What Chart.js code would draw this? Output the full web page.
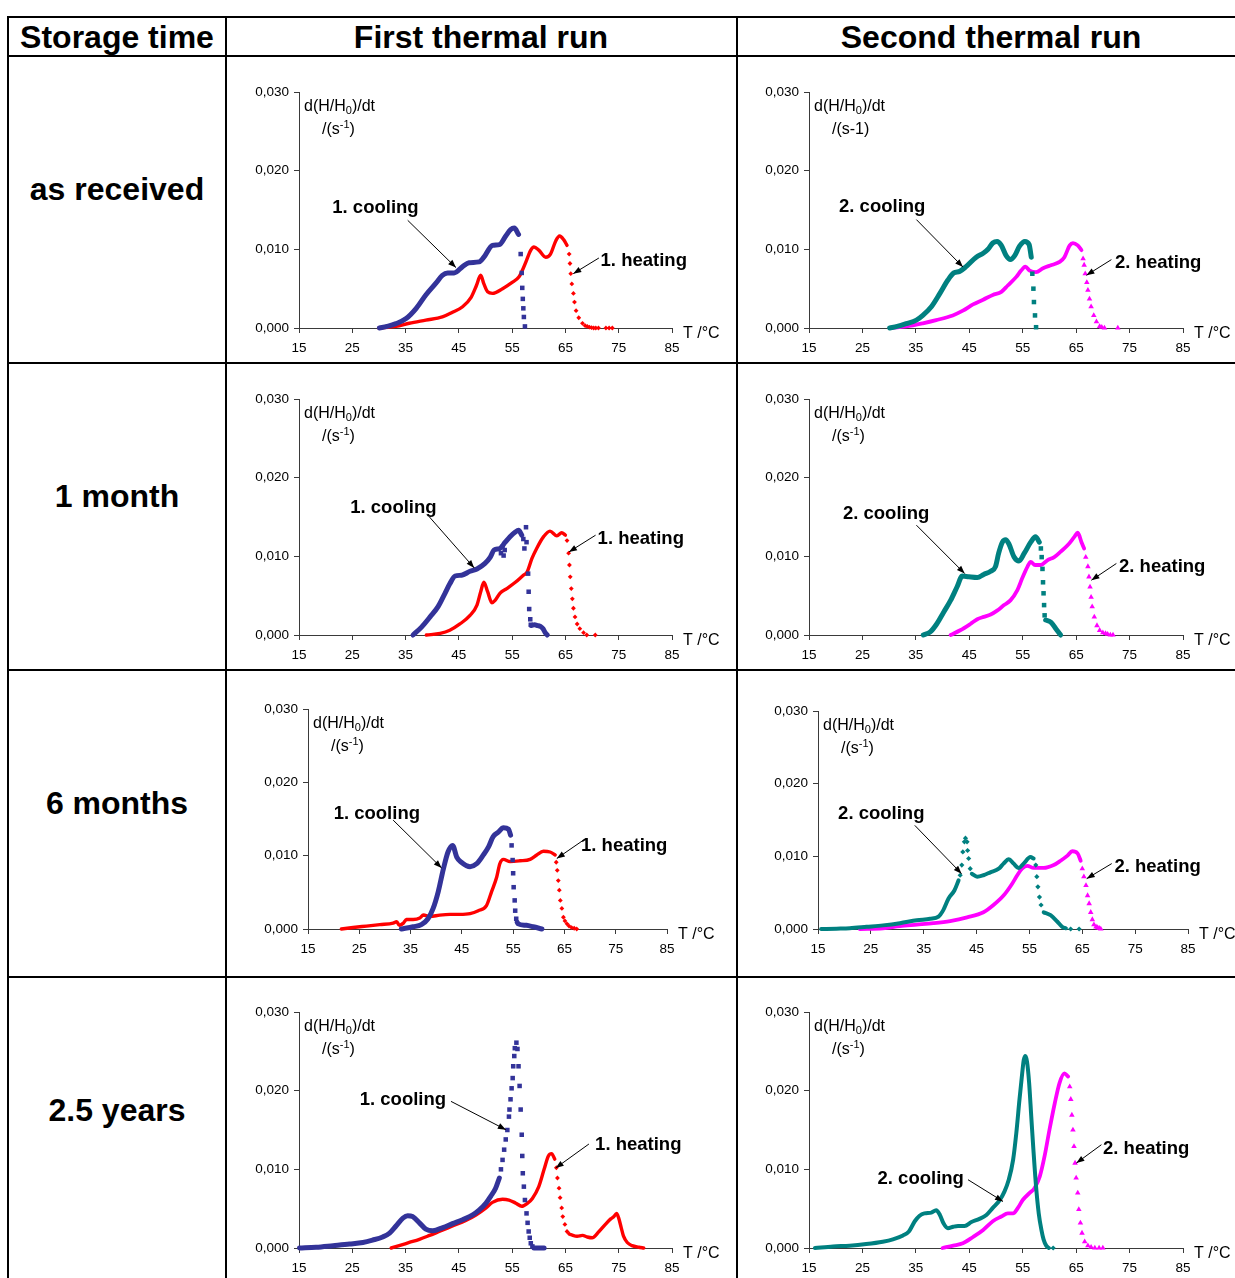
<!DOCTYPE html>
<html>
<head>
<meta charset="utf-8">
<title>Storage time – thermal runs</title>
<script src="https://cdn.jsdelivr.net/npm/chart.js@4.4.1/dist/chart.umd.min.js"></script>
<style>
  html, body { margin: 0; padding: 0; background: #fff; width: 1235px; height: 1278px; overflow: hidden; }
  #page { position: relative; width: 1235px; height: 1278px; overflow: hidden;
          font-family: "Liberation Sans", Arial, Helvetica, sans-serif; }
  .hl { position: absolute; height: 2px; background: #000; }
  .vl { position: absolute; width: 2px; background: #000; }
  .cap { position: absolute; font-weight: bold; font-size: 32px; line-height: 1;
         white-space: nowrap; transform: translate(-50%, -50%); color: #000; }
  canvas { position: absolute; }
</style>
</head>
<body>
<div id="page"></div>
<script>
// ---------- measured curves: [temperature °C, d(H/H0)/dt in s^-1] ----------
// "Trace" = densely sampled part (drawn as a solid band), null breaks the band.
// "Dots"  = sparse samples during fast transitions (drawn as single markers).

// as received – first run
const recv1CoolTrace = [[30.1,0],[31.5,0.0002],[33.2,0.00055],[35.1,0.0012],[37.0,0.0025],[38.8,0.0042],[40.7,0.0057],[41.9,0.0067],[42.9,0.0070],[44.1,0.0070],[45.7,0.0078],[46.9,0.0083],[48.8,0.0084],[49.7,0.0090],[51.3,0.0105],[52.6,0.0106],[53.8,0.0117],[54.7,0.0125],[55.4,0.0127],[56.2,0.0119]];
const recv1CoolDots = [[56.6,0.0094],[56.8,0.0070],[56.9,0.0051],[57.0,0.0037],[57.1,0.0025],[57.2,0.0014],[57.4,0.0002]];
const recv1HeatTrace = [[30.0,0],[33.2,0.0002],[35.7,0.0006],[38.8,0.0010],[41.9,0.0014],[43.8,0.0020],[45.7,0.0027],[47.3,0.0039],[48.3,0.0054],[49.1,0.0067],[49.7,0.0056],[50.4,0.0046],[51.3,0.0044],[53.2,0.0050],[55.0,0.0058],[56.3,0.0065],[56.9,0.0073],[57.7,0.0086],[58.5,0.0099],[59.1,0.0103],[60.0,0.0099],[61.3,0.0090],[62.2,0.0094],[63.2,0.0111],[63.9,0.0117],[64.7,0.0112],[65.3,0.0105]];
const recv1HeatDots = [[65.7,0.0094],[65.85,0.0082],[66.0,0.0069],[66.2,0.0056],[66.5,0.0044],[66.7,0.0033],[67.0,0.0022],[67.5,0.0013],[68.2,0.0006],[68.7,0.0003],[69.1,0.0002],[69.5,0.0001],[69.9,0.00005],[70.3,0],[70.7,0],[71.2,0],[72.6,0],[73.2,0],[73.8,0]];

// as received – second run
const recv2CoolTrace = [[30.1,0],[31.5,0.0002],[33.2,0.00055],[35.1,0.0010],[36.3,0.0016],[37.9,0.0027],[39.5,0.0044],[41.0,0.0061],[42.1,0.0070],[43.2,0.0072],[44.4,0.0078],[46.3,0.0090],[47.6,0.0095],[48.5,0.0100],[49.4,0.0108],[50.2,0.0110],[51.0,0.0105],[51.9,0.0092],[52.7,0.0087],[53.5,0.0092],[54.4,0.0104],[55.4,0.0110],[56.2,0.0106],[56.6,0.0090]];
const recv2CoolDots = [[56.8,0.0069],[57.0,0.0050],[57.1,0.0033],[57.3,0.0016],[57.5,0.0001]];
const recv2HeatTrace = [[30.1,0],[33.2,0.0002],[36.3,0.0006],[38.8,0.0010],[41.9,0.0016],[43.8,0.0022],[45.7,0.0030],[47.6,0.0036],[49.4,0.0042],[51.0,0.0046],[52.2,0.0054],[53.8,0.0065],[54.7,0.0073],[55.5,0.0078],[56.3,0.0073],[57.5,0.0071],[58.8,0.0076],[60.4,0.0080],[61.9,0.0084],[62.8,0.0090],[63.8,0.0105],[64.4,0.0108],[65.3,0.0105],[66.0,0.0099]];
const recv2HeatDots = [[66.3,0.0088],[66.5,0.0080],[66.7,0.0069],[67.0,0.0058],[67.2,0.0048],[67.5,0.0037],[67.8,0.0027],[68.3,0.0016],[68.8,0.0008],[69.4,0.0002],[69.8,0.0001],[70.3,0],[72.8,0]];

// 1 month – first run
const m1Cool1Trace = [[36.4,0],[38.0,0.0010],[39.6,0.0023],[41.1,0.0036],[42.4,0.0053],[43.3,0.0065],[44.3,0.0075],[45.5,0.0076],[47.1,0.0081],[48.4,0.0084],[49.9,0.0091],[50.9,0.0099],[51.6,0.0108],[52.7,0.0110],[53.7,0.0118],[54.6,0.0125],[55.6,0.0131],[56.2,0.0133],[56.8,0.0127],[57.0,null],[58.6,0.0012],[59.2,0.0013],[59.8,0.0012],[60.3,0.0011],[60.8,0.0008],[61.2,0.0003],[61.6,0]];
const m1Cool1Dots = [[52.9,0.0104],[53.2,0.0112],[53.4,0.0101],[53.6,0.0108],[57.1,0.0122],[57.3,0.0110],[57.6,0.0137],[57.7,0.0118],[58.0,0.0078],[58.1,0.0055],[58.2,0.0033],[58.4,0.0020],[58.5,0.0013]];
const m1Heat1Trace = [[38.9,0],[41.5,0.0002],[43.3,0.0006],[45.2,0.0014],[47.1,0.0025],[48.4,0.0038],[49.1,0.0055],[49.7,0.0067],[50.4,0.0055],[51.2,0.0041],[51.8,0.0044],[52.7,0.0053],[54.0,0.0059],[55.6,0.0067],[57.1,0.0076],[57.8,0.0080],[58.7,0.0097],[59.6,0.0110],[60.9,0.0125],[62.1,0.0132],[63.4,0.0126],[64.3,0.0130],[65.0,0.0127]];
const m1Heat1Dots = [[65.3,0.0120],[65.6,0.0104],[65.75,0.0089],[65.9,0.0074],[66.1,0.0059],[66.3,0.0046],[66.5,0.0034],[66.8,0.0023],[67.2,0.0014],[67.7,0.0008],[68.4,0.0003],[69.0,0],[70.6,0]];

// 1 month – second run
const m1Cool2Trace = [[36.4,0],[37.7,0.0004],[38.9,0.0014],[40.2,0.0029],[41.5,0.0044],[42.7,0.0061],[43.7,0.0075],[44.9,0.0074],[46.5,0.0073],[47.7,0.0077],[49.0,0.0081],[49.9,0.0087],[50.5,0.0104],[51.2,0.0118],[51.8,0.0121],[52.4,0.0116],[53.4,0.0099],[54.3,0.0094],[55.3,0.0104],[56.5,0.0118],[57.4,0.0125],[58.1,0.0118],[58.3,null],[59.3,0.0019],[60.3,0.0016],[61.2,0.0008],[62.1,0]];
const m1Cool2Dots = [[58.4,0.0110],[58.55,0.0099],[58.7,0.0084],[58.8,0.0067],[58.9,0.0053],[59.0,0.0038],[59.1,0.0025]];
const m1Heat2Trace = [[41.5,0],[43.3,0.0006],[45.2,0.0014],[46.5,0.0020],[47.7,0.0023],[49.0,0.0026],[50.2,0.0031],[51.5,0.0038],[52.7,0.0044],[54.0,0.0057],[54.9,0.0072],[55.9,0.0087],[56.5,0.0093],[57.3,0.0089],[58.4,0.0089],[59.6,0.0095],[60.9,0.0099],[62.1,0.0106],[63.4,0.0114],[64.7,0.0125],[65.3,0.0130],[66.0,0.0118],[66.5,0.0110]];
const m1Heat2Dots = [[66.8,0.0099],[67.2,0.0087],[67.4,0.0074],[67.6,0.0061],[67.8,0.0048],[68.0,0.0036],[68.4,0.0023],[68.9,0.0012],[69.4,0.0006],[70.0,0.0003],[70.5,0.0002],[70.9,0.0001],[71.4,0],[71.9,0]];

// 6 months – first run
const m6Cool1Trace = [[33.2,0],[35.5,0.0003],[37.1,0.0006],[38.4,0.0014],[39.4,0.0028],[40.4,0.0051],[41.4,0.0082],[42.3,0.0105],[43.2,0.0114],[44.0,0.0098],[44.9,0.0091],[46.6,0.0085],[47.9,0.0089],[49.2,0.0101],[50.2,0.0112],[51.1,0.0126],[52.1,0.0132],[53.1,0.0138],[54.1,0.0136],[54.5,0.0128],[54.6,null],[55.8,0.0009],[56.0,0.0007],[57.6,0.0005],[58.9,0.0003],[60.6,0]];
const m6Cool1Dots = [[54.7,0.0114],[54.9,0.0094],[55.0,0.0076],[55.1,0.0057],[55.3,0.0039],[55.4,0.0025],[55.6,0.0014]];
const m6Heat1Trace = [[21.5,0],[23.8,0.0002],[26.4,0.0004],[29.0,0.0006],[31.6,0.0008],[32.3,0.0010],[32.8,0.0005],[33.6,0.0008],[34.2,0.0013],[35.5,0.0013],[36.8,0.0015],[37.5,0.0019],[38.8,0.0017],[40.7,0.0019],[42.7,0.0020],[44.6,0.0020],[46.6,0.0021],[48.2,0.0025],[49.8,0.0032],[50.8,0.0051],[51.8,0.0071],[52.4,0.0089],[53.1,0.0095],[54.4,0.0092],[56.3,0.0093],[58.3,0.0095],[59.6,0.0101],[60.9,0.0106],[62.2,0.0105],[63.2,0.0101]];
const m6Heat1Dots = [[63.4,0.0091],[63.6,0.0080],[63.8,0.0066],[64.0,0.0053],[64.2,0.0039],[64.5,0.0028],[64.8,0.0016],[65.1,0.0011],[65.5,0.0007],[65.9,0.0004],[66.4,0.0002],[66.9,0.0001],[67.4,0]];

// 6 months – second run
const m6Cool2Trace = [[15.6,0],[18.5,0.00005],[21.0,0.0001],[24.2,0.0003],[27.3,0.0005],[30.5,0.0008],[33.7,0.0012],[36.2,0.0014],[37.8,0.0017],[38.7,0.0026],[39.7,0.0042],[40.8,0.0053],[41.6,0.0067],[41.8,null],[44.1,0.0076],[45.1,0.0072],[46.3,0.0074],[47.6,0.0078],[49.2,0.0083],[50.1,0.0090],[51.1,0.0096],[52.0,0.0090],[53.0,0.0084],[53.9,0.0090],[55.2,0.0099],[55.8,0.0097],[56.0,null],[57.7,0.0023],[59.0,0.0019],[60.3,0.0010],[61.2,0.0003],[61.9,0.0001]];
const m6Cool2Dots = [[41.9,0.0074],[42.2,0.0088],[42.4,0.0106],[42.7,0.0120],[42.9,0.0125],[43.2,0.0120],[43.3,0.0108],[43.5,0.0097],[43.8,0.0083],[56.2,0.0088],[56.4,0.0072],[56.6,0.0058],[56.9,0.0044],[57.2,0.0033],[62.8,0],[64.4,0]];
const m6Heat2Trace = [[22.9,0],[27.3,0.0001],[30.5,0.0004],[33.7,0.0006],[36.8,0.0008],[40.0,0.0011],[43.2,0.0016],[46.3,0.0023],[48.2,0.0033],[50.1,0.0046],[51.7,0.0062],[52.7,0.0074],[53.6,0.0083],[54.6,0.0087],[55.8,0.0084],[57.7,0.0084],[59.6,0.0088],[60.9,0.0094],[62.2,0.0101],[63.1,0.0107],[64.1,0.0104],[64.7,0.0094]];
const m6Heat2Dots = [[65.0,0.0083],[65.3,0.0072],[65.7,0.0060],[66.0,0.0046],[66.3,0.0035],[66.6,0.0023],[66.9,0.0013],[67.2,0.0006],[67.6,0.0003],[67.9,0.0002],[68.2,0.0001],[68.5,0]];

// 2.5 years – first run
const y25Cool1Trace = [[15.1,0],[18.2,0.0001],[21.4,0.0003],[24.5,0.0005],[27.0,0.0007],[28.8,0.0010],[30.7,0.0014],[32.0,0.0019],[33.2,0.0028],[34.5,0.0038],[35.4,0.0041],[36.3,0.0040],[37.6,0.0032],[38.8,0.0024],[40.1,0.0022],[42.0,0.0026],[43.8,0.0031],[45.7,0.0036],[47.6,0.0042],[48.8,0.0048],[50.1,0.0057],[51.0,0.0066],[51.9,0.0076],[52.6,0.0089],[52.7,null],[59.1,0],[61.0,0]];
const y25Cool1Dots = [[52.9,0.0100],[53.2,0.0112],[53.5,0.0125],[53.8,0.0138],[54.1,0.0150],[54.4,0.0167],[54.5,0.0176],[54.7,0.0189],[54.9,0.0203],[55.1,0.0216],[55.2,0.0231],[55.4,0.0244],[55.5,0.0254],[55.8,0.0261],[56.0,0.0253],[56.2,0.0231],[56.4,0.0206],[56.6,0.0176],[56.8,0.0144],[56.9,0.0117],[57.0,0.0095],[57.2,0.0078],[57.4,0.0061],[57.7,0.0044],[57.9,0.0032],[58.1,0.0021],[58.3,0.0013],[58.5,0.0006],[58.8,0.0002]];
const y25Heat1Trace = [[32.3,0],[33.8,0.0003],[35.7,0.0007],[37.6,0.0011],[39.5,0.0016],[41.3,0.0021],[43.8,0.0028],[46.3,0.0035],[48.2,0.0042],[50.1,0.0051],[51.3,0.0058],[53.2,0.0062],[54.4,0.0061],[55.7,0.0057],[56.8,0.0053],[57.9,0.0057],[58.8,0.0063],[60.0,0.0078],[61.0,0.0100],[61.8,0.0117],[62.4,0.0120],[63.0,0.0113],[63.1,null],[66.0,0.0017],[67.2,0.0015],[68.2,0.0016],[69.1,0.0014],[70.0,0.0013],[71.3,0.0021],[72.5,0.0030],[73.5,0.0037],[74.1,0.0040],[74.6,0.0044],[75.0,0.0038],[75.5,0.0025],[75.9,0.0015],[76.6,0.0007],[77.5,0.0003],[78.8,0.0001],[79.7,0]];
const y25Heat1Dots = [[63.3,0.0102],[63.5,0.0089],[63.8,0.0076],[64.0,0.0064],[64.3,0.0051],[64.5,0.0040],[64.9,0.0030],[65.3,0.0021],[65.7,0.0018]];

// 2.5 years – second run
const y25Cool2Trace = [[16.1,0],[19.5,0.0002],[22.6,0.0003],[25.7,0.0005],[28.8,0.0008],[30.7,0.0011],[32.6,0.0016],[33.7,0.0021],[34.8,0.0034],[35.7,0.0041],[36.6,0.0044],[37.9,0.0045],[38.8,0.0048],[39.5,0.0042],[40.2,0.0031],[41.0,0.0025],[42.0,0.0027],[42.9,0.0028],[44.1,0.0028],[45.4,0.0033],[46.9,0.0037],[48.2,0.0042],[49.4,0.0051],[50.7,0.0061],[51.6,0.0072],[52.4,0.0087],[53.2,0.0112],[53.8,0.0146],[54.4,0.0189],[54.9,0.0222],[55.2,0.0239],[55.5,0.0244],[55.8,0.0237],[56.2,0.0210],[56.6,0.0167],[57.0,0.0125],[57.5,0.0078],[58.0,0.0044],[58.5,0.0023],[58.9,0.0011],[59.4,0.0003],[59.9,0]];
const y25Cool2Dots = [[60.7,0]];
const y25Heat2Trace = [[40.0,0],[42.0,0.0003],[43.8,0.0006],[45.7,0.0014],[47.6,0.0023],[49.4,0.0034],[51.0,0.0040],[52.2,0.0044],[53.2,0.0044],[54.1,0.0051],[55.0,0.0061],[56.3,0.0070],[57.2,0.0076],[58.2,0.0091],[59.1,0.0117],[60.0,0.0150],[61.0,0.0184],[61.9,0.0210],[62.8,0.0222],[63.5,0.0218]];
const y25Heat2Dots = [[63.8,0.0205],[64.0,0.0189],[64.2,0.0169],[64.4,0.0150],[64.6,0.0129],[64.8,0.0108],[65.0,0.0089],[65.3,0.0070],[65.5,0.0049],[65.8,0.0032],[66.1,0.0019],[66.6,0.0008],[67.2,0.0003],[67.8,0.0001],[68.5,0],[69.3,0],[70.0,0]];

// ---------- axes and table text ----------
const tempTicks = [15, 25, 35, 45, 55, 65, 75, 85];
const rateTicks = [0, 0.01, 0.02, 0.03];
const headerLabels = ['Storage time', 'First thermal run', 'Second thermal run'];
const storageLabels = ['as received', '1 month', '6 months', '2.5 years'];

// ---------- drawing ----------
const FAMILY = "'Liberation Sans', Arial, Helvetica, sans-serif";
Chart.defaults.font.family = FAMILY;
Chart.defaults.color = '#000';
const page = document.getElementById('page');

// table rules
function rule(cls, x, y, len) {
  const d = document.createElement('div');
  d.className = cls;
  d.style.left = x + 'px'; d.style.top = y + 'px';
  if (cls === 'hl') d.style.width = len + 'px'; else d.style.height = len + 'px';
  page.appendChild(d);
}
[16, 55, 362, 669, 976].forEach(y => rule('hl', 7, y, 1260));
[7, 225, 736].forEach(x => rule('vl', x, 16, 1300));

function caption(text, cx, cy) {
  const d = document.createElement('div');
  d.className = 'cap';
  d.textContent = text;
  d.style.left = cx + 'px'; d.style.top = cy + 'px';
  page.appendChild(d);
}
const headerCenters = [117, 481, 991];
headerLabels.forEach((t, i) => caption(t, headerCenters[i], 37));
storageLabels.forEach((t, i) => caption(t, 117, 189 + i * 307));

const STYLE = {
  cool1:  { color: '#333399', width: 5,   point: 'rect',     r: 3.2 },
  heat1:  { color: '#ff0000', width: 3.4, point: 'rectRot',  r: 2.4 },
  cool2:  { color: '#008080', width: 5,   point: 'rect',     r: 3.2 },
  cool2s: { color: '#008080', width: 4,   point: 'rectRot',  r: 2.6 },
  heat2:  { color: '#ff00ff', width: 3.8, point: 'triangle', r: 3.2 }
};

const toXY = arr => arr.map(([x, y]) => ({ x, y }));

const panels = [
  { area: { l: 299, t: 92, r: 672, b: 328 }, unit: 'sup',
    series: [['cool1', recv1CoolTrace, recv1CoolDots], ['heat1', recv1HeatTrace, recv1HeatDots]],
    notes: [{ text: '1. cooling', at: [29.35, 0.01534], from: [35.40, 0.01369], to: [44.46, 0.00768] },
            { text: '1. heating', at: [79.70, 0.00861], from: [71.28, 0.0089],  to: [66.47, 0.00691] }] },
  { area: { l: 809, t: 92, r: 1183, b: 328 }, unit: 'plain',
    series: [['cool2', recv2CoolTrace, recv2CoolDots], ['heat2', recv2HeatTrace, recv2HeatDots]],
    notes: [{ text: '2. cooling', at: [28.70, 0.01547], from: [35.10, 0.01378], to: [43.82, 0.00775] },
            { text: '2. heating', at: [80.36, 0.00835], from: [71.60, 0.00869], to: [66.92, 0.0067] }] },
  { area: { l: 299, t: 399, r: 672, b: 635 }, unit: 'sup',
    series: [['cool1', m1Cool1Trace, m1Cool1Dots], ['heat1', m1Heat1Trace, m1Heat1Dots]],
    notes: [{ text: '1. cooling', at: [32.72, 0.01625], from: [39.46, 0.01502], to: [47.88, 0.00853] },
            { text: '1. heating', at: [79.14, 0.01231], from: [70.66, 0.01269], to: [65.66, 0.01056] }] },
  { area: { l: 809, t: 399, r: 1183, b: 635 }, unit: 'sup',
    series: [['cool2', m1Cool2Trace, m1Cool2Dots], ['heat2', m1Heat2Trace, m1Heat2Dots]],
    notes: [{ text: '2. cooling', at: [29.43, 0.01549], from: [35.10, 0.01396], to: [44.14, 0.00781] },
            { text: '2. heating', at: [81.11, 0.00875], from: [72.53, 0.00909], to: [67.85, 0.00696] }] },
  { area: { l: 308, t: 709, r: 667, b: 929 }, unit: 'sup',
    series: [['cool1', m6Cool1Trace, m6Cool1Dots], ['heat1', m6Heat1Trace, m6Heat1Dots]],
    notes: [{ text: '1. cooling', at: [28.42, 0.01581], from: [31.60, 0.01485], to: [41.05, 0.00833] },
            { text: '1. heating', at: [76.66, 0.01144], from: [68.71, 0.01212], to: [63.52, 0.00962] }] },
  { area: { l: 818, t: 711, r: 1188, b: 929 }, unit: 'sup',
    series: [['cool2s', m6Cool2Trace, m6Cool2Dots], ['heat2', m6Heat2Trace, m6Heat2Dots]],
    notes: [{ text: '2. cooling', at: [26.97, 0.01591], from: [33.31, 0.01426], to: [42.16, 0.00762] },
            { text: '2. heating', at: [79.24, 0.00862], from: [70.57, 0.009],   to: [65.83, 0.00693] }] },
  { area: { l: 299, t: 1012, r: 672, b: 1248 }, unit: 'sup',
    series: [['cool1', y25Cool1Trace, y25Cool1Dots], ['heat1', y25Heat1Trace, y25Heat1Dots]],
    notes: [{ text: '1. cooling', at: [34.50, 0.01898], from: [43.52, 0.01864], to: [53.82, 0.01504] },
            { text: '1. heating', at: [78.67, 0.01326], from: [69.41, 0.01322], to: [63.17, 0.01017] }] },
  { area: { l: 809, t: 1012, r: 1183, b: 1248 }, unit: 'sup',
    series: [['cool2s', y25Cool2Trace, y25Cool2Dots], ['heat2', y25Heat2Trace, y25Heat2Dots]],
    notes: [{ text: '2. cooling', at: [35.91, 0.00894], from: [44.76, 0.00868], to: [51.31, 0.00592] },
            { text: '2. heating', at: [78.11, 0.01274], from: [69.73, 0.01313], to: [65.05, 0.0108] }] }
];

const AXIS_PX = 16, SMALL_PX = 11, TICK_PX = 13.5, NOTE_PX = 18.5;

function drawRich(ctx, x, y, parts) {
  let cx = x;
  for (const [t, kind] of parts) {
    if (kind === 'sub') { ctx.font = `${SMALL_PX}px ${FAMILY}`; ctx.fillText(t, cx, y + 4); }
    else if (kind === 'sup') { ctx.font = `${SMALL_PX}px ${FAMILY}`; ctx.fillText(t, cx, y - 5); }
    else { ctx.font = `${AXIS_PX}px ${FAMILY}`; ctx.fillText(t, cx, y); }
    cx += ctx.measureText(t).width;
  }
}

function drawArrow(ctx, x0, y0, x1, y1) {
  ctx.strokeStyle = '#000'; ctx.fillStyle = '#000'; ctx.lineWidth = 1;
  ctx.beginPath(); ctx.moveTo(x0, y0); ctx.lineTo(x1, y1); ctx.stroke();
  const a = Math.atan2(y1 - y0, x1 - x0), L = 8, W = 3;
  ctx.beginPath();
  ctx.moveTo(x1, y1);
  ctx.lineTo(x1 - L * Math.cos(a) + W * Math.sin(a), y1 - L * Math.sin(a) - W * Math.cos(a));
  ctx.lineTo(x1 - L * Math.cos(a) - W * Math.sin(a), y1 - L * Math.sin(a) + W * Math.cos(a));
  ctx.closePath(); ctx.fill();
}

function decorPlugin(panel) {
  return {
    id: 'decor',
    afterDraw(chart) {
      const { ctx, chartArea: ca, scales } = chart;
      ctx.save();
      ctx.fillStyle = '#000';
      ctx.textAlign = 'left'; ctx.textBaseline = 'middle';
      drawRich(ctx, ca.left + 5, ca.top + 15, [['d(H/H'], ['0', 'sub'], [')/dt']]);
      const unit = panel.unit === 'plain' ? [['/(s-1)']] : [['/(s'], ['-1', 'sup'], [')']];
      drawRich(ctx, ca.left + 23, ca.top + 38, unit);
      ctx.font = `${AXIS_PX}px ${FAMILY}`;
      ctx.fillText('T /°C', ca.right + 11, ca.bottom + 6);
      for (const n of panel.notes) {
        const px = v => scales.x.getPixelForValue(v), py = v => scales.y.getPixelForValue(v);
        drawArrow(ctx, px(n.from[0]), py(n.from[1]), px(n.to[0]), py(n.to[1]));
        ctx.fillStyle = '#000';
        ctx.font = `bold ${NOTE_PX}px ${FAMILY}`;
        ctx.textAlign = 'center'; ctx.textBaseline = 'middle';
        ctx.fillText(n.text, px(n.at[0]), py(n.at[1]) + 1);
      }
      ctx.restore();
    }
  };
}

const PAD = { l: 70, t: 16, r: 62, b: 36 };

function buildPanel(panel) {
  const a = panel.area;
  const w = (a.r - a.l) + PAD.l + PAD.r;
  const h = (a.b - a.t) + PAD.t + PAD.b;
  const cv = document.createElement('canvas');
  cv.width = w; cv.height = h;
  cv.style.width = w + 'px'; cv.style.height = h + 'px';
  cv.style.left = (a.l - PAD.l) + 'px'; cv.style.top = (a.t - PAD.t) + 'px';
  page.appendChild(cv);

  const datasets = [];
  // cooling first so it is painted above heating
  for (const [key, trace, dots] of panel.series) {
    const s = STYLE[key];
    datasets.push({
      data: toXY(trace), showLine: true, spanGaps: false,
      borderColor: s.color, backgroundColor: s.color, borderWidth: s.width,
      borderJoinStyle: 'round', borderCapStyle: 'round',
      cubicInterpolationMode: 'monotone', pointRadius: 0, clip: false
    });
    datasets.push({
      data: toXY(dots), showLine: false,
      pointStyle: s.point, pointRadius: s.r, pointBorderWidth: 0,
      pointBackgroundColor: s.color, pointBorderColor: s.color, clip: false
    });
  }

  const axisColor = '#3a3a3a';
  const chart = new Chart(cv, {
    type: 'scatter',
    data: { datasets },
    options: {
      responsive: false, animation: false, devicePixelRatio: 1,
      layout: { padding: { left: 0, top: PAD.t, right: PAD.r, bottom: 0 } },
      plugins: { legend: { display: false }, tooltip: { enabled: false } },
      scales: {
        x: {
          type: 'linear', min: tempTicks[0], max: tempTicks[tempTicks.length - 1],
          afterFit(s) { s.height = PAD.b; },
          afterBuildTicks(s) { s.ticks = tempTicks.map(v => ({ value: v })); },
          ticks: { autoSkip: false, maxRotation: 0, padding: 7, font: { size: TICK_PX }, color: '#000',
                   callback: v => String(v) },
          grid: { drawOnChartArea: false, drawTicks: true, tickLength: 5, color: axisColor },
          border: { display: true, color: axisColor, width: 1 }
        },
        y: {
          type: 'linear', min: rateTicks[0], max: rateTicks[rateTicks.length - 1],
          afterFit(s) { s.width = PAD.l; },
          afterBuildTicks(s) { s.ticks = rateTicks.map(v => ({ value: v })); },
          ticks: { padding: 5, font: { size: TICK_PX }, color: '#000',
                   callback: v => Number(v).toFixed(3).replace('.', ',') },
          grid: { drawOnChartArea: false, drawTicks: true, tickLength: 5, color: axisColor },
          border: { display: true, color: axisColor, width: 1 }
        }
      }
    },
    plugins: [decorPlugin(panel)]
  });

  // keep the plot frame exactly on its cell position
  const ca = chart.chartArea;
  cv.style.left = (a.l - ca.left) + 'px';
  cv.style.top = (a.t - ca.top) + 'px';
}

panels.forEach(buildPanel);
</script>
</body>
</html>
